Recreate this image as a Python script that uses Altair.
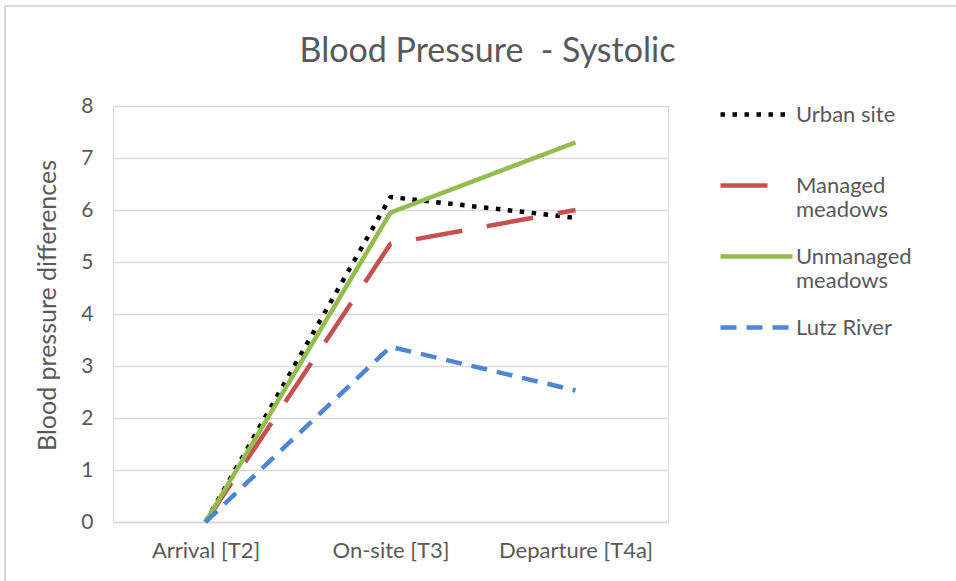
import altair as alt
import pandas as pd

# Measurement points and the four study sites
timepoints = ["Arrival [T2]", "On-site [T3]", "Departure [T4a]"]
series = ["Urban site", "Managed meadows", "Unmanaged meadows", "Lutz River"]

# Systolic blood pressure differences per site
urban_site = [0, 6.25, 5.85]
managed_meadows = [0, 5.35, 6.0]
unmanaged_meadows = [0, 5.95, 7.3]
lutz_river = [0, 3.37, 2.53]

y_ticks = [0, 1, 2, 3, 4, 5, 6, 7, 8]

rows = []
for name, vals in zip(series, [urban_site, managed_meadows, unmanaged_meadows, lutz_river]):
    for t, v in zip(timepoints, vals):
        rows.append({"time": t, "site": name, "value": v})
df = pd.DataFrame(rows)

colors = ["#000000", "#C5504D", "#92BD4E", "#4E86D4"]
dashes = [[4.5, 7.5], [47, 25], [1, 0], [16, 10]]

FONT = "Lato"
GREY = "#595959"
GRID = "#D9D9D9"

# The meadow sites wrap onto a second line; the first line stays level with the symbol
label_expr = "indexof(datum.label, 'meadows') > 0 ? split(datum.label, ' ') : datum.label"

legend = alt.Legend(
    title=None,
    orient="none",
    legendX=605,
    legendY=-6,
    padding=0,
    rowPadding=21,
    gridAlign="all",
    symbolType="M-3,0H3",
    symbolSize=576,
    symbolOffset=24,
    symbolStrokeWidth=4.5,
    labelFont=FONT,
    labelFontSize=22,
    labelColor=GREY,
    labelOffset=25,
    labelBaseline="middle",
    labelExpr=label_expr,
)

lines = alt.Chart(df).mark_line(strokeWidth=4.5, strokeCap="butt", strokeJoin="round").encode(
    x=alt.X(
        "time:N",
        sort=timepoints,
        scale=alt.Scale(padding=0.5),
        axis=alt.Axis(
            title="",
            labelAngle=0,
            ticks=False,
            domain=True,
            domainColor=GRID,
            domainWidth=1.3,
            labelPadding=18,
            labelFont=FONT,
            labelFontSize=22,
            labelColor=GREY,
            grid=False,
        ),
    ),
    y=alt.Y(
        "value:Q",
        scale=alt.Scale(domain=[0, 8], nice=False),
        axis=alt.Axis(
            title="Blood pressure differences",
            values=y_ticks,
            ticks=False,
            domain=False,
            grid=True,
            gridColor=GRID,
            gridWidth=1.3,
            labelPadding=20,
            labelFont=FONT,
            labelFontSize=21,
            labelColor=GREY,
            titleFont=FONT,
            titleFontSize=25,
            titleFontWeight="normal",
            titleColor=GREY,
            titlePadding=20,
            titleY=199,
        ),
    ),
    color=alt.Color("site:N", sort=series, scale=alt.Scale(domain=series, range=colors), legend=legend),
    strokeDash=alt.StrokeDash("site:N", sort=series, scale=alt.Scale(domain=series, range=dashes), legend=legend),
    order=alt.Order("site:N"),
    detail="site:N",
)

# Light outer frame along the top and left edges
frame_src = pd.DataFrame({"frame": [0]})
frame_top = alt.Chart(frame_src).mark_rule(color=GRID, strokeWidth=2).encode(
    x=alt.value(-108), x2=alt.value(843), y=alt.value(-100)
)
frame_left = alt.Chart(frame_src).mark_rule(color=GRID, strokeWidth=2).encode(
    x=alt.value(-108), y=alt.value(-100), y2=alt.value(475)
)

chart = alt.layer(frame_top, frame_left, lines).properties(
    width=555,
    height=416,
    autosize=alt.AutoSizeParams(type="none"),
    padding={"left": 113, "top": 106, "right": 288, "bottom": 59},
    title=alt.TitleParams(
        "Blood Pressure\u00a0 - Systolic",
        font=FONT,
        fontSize=34,
        fontWeight="normal",
        color=GREY,
        anchor="middle",
        dx=97,
        offset=-91,
        baseline="alphabetic",
    ),
).configure_view(stroke=None).configure(background="white")

chart.save("out.html", embed_options={"renderer": "svg", "actions": False})
